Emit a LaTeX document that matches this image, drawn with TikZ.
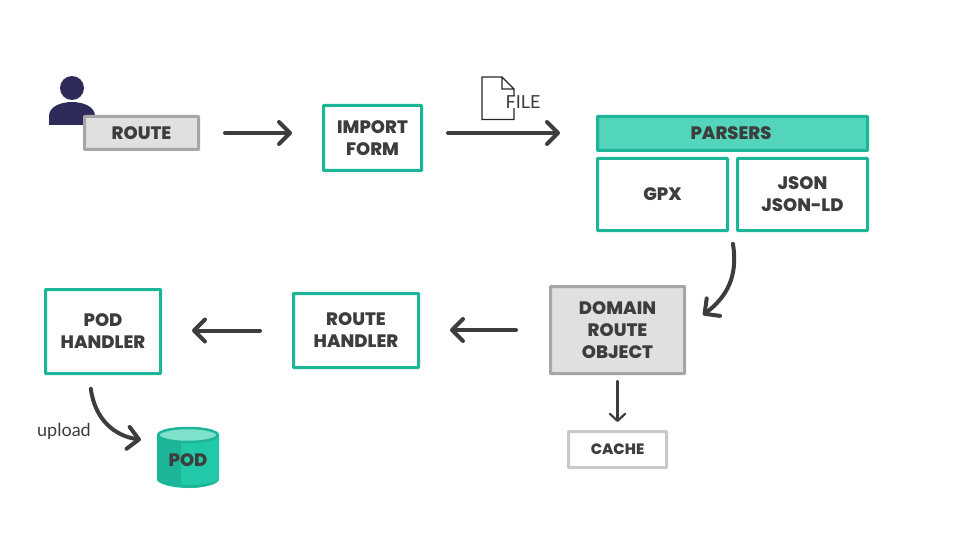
\documentclass[tikz,border=0pt]{standalone}
\usepackage{fontspec}
\setmainfont{Poppins}[BoldFont={Poppins ExtraBold}]
\newfontfamily\thinfont{Lato}
\usetikzlibrary{arrows.meta}
\definecolor{teal1}{HTML}{1DB597}
\definecolor{teal2}{HTML}{52D5BA}
\definecolor{teal3}{HTML}{22C9A9}
\definecolor{teal4}{HTML}{7FE0CC}
\definecolor{ink}{HTML}{3D3D3D}
\definecolor{navy}{HTML}{2E2B5A}
\definecolor{greyline}{HTML}{A6A6A6}
\definecolor{greyfill}{HTML}{E0E0E0}
\definecolor{lightline}{HTML}{C9C9C9}
\tikzset{
  x=1pt,y=-1pt,
  boxbase/.style={rectangle,line width=3pt,rounded corners=0.5pt,align=center,inner sep=0pt,text=ink,
    font=\fontsize{18}{22}\selectfont\bfseries},
  tealbox/.style={boxbase,draw=teal1,fill=white},
  greybox/.style={boxbase,draw=greyline,fill=greyfill},
  cachebox/.style={boxbase,draw=lightline,fill=white,font=\fontsize{15}{18}\selectfont\bfseries},
  arr/.style={draw=ink,line width=4pt,line cap=round,line join=round,
    -{Straight Barb[length=11pt,width=22pt,line width=4pt,round]}},
  thinarr/.style={draw=ink,line width=2.2pt,line cap=round,line join=round,
    -{Straight Barb[length=7pt,width=15pt,line width=2.2pt,round]}},
  lighttext/.style={font=\fontsize{18}{20}\selectfont\thinfont,text=ink,inner sep=0pt},
}
\begin{document}
\begin{tikzpicture}
\useasboundingbox (0,0) rectangle (960,540);
% person
\fill[navy] (72,88) circle (12);
\fill[navy] (49,125) -- (49,116) .. controls (49,106) and (62,102) .. (72,102) .. controls (82,102) and (95,106) .. (95,116) -- (95,125) -- cycle;
% boxes
\node[greybox,minimum width=114pt,minimum height=33pt] (route) at (141.5,133) {ROUTE};
\node[tealbox,minimum width=98pt,minimum height=65pt] (import) at (372.5,138) {IMPORT\\FORM};
\node[tealbox,fill=teal2,minimum width=270pt,minimum height=34pt] (parsers) at (732.5,133.5) {PARSERS\kern3pt};
\node[tealbox,minimum width=130pt,minimum height=72pt] (gpx) at (662.5,194.5) {GPX};
\node[tealbox,minimum width=130pt,minimum height=72pt] (json) at (802.5,194.5) {\raisebox{1pt}{JSON}\\\raisebox{1pt}{JSON-LD}};
\node[greybox,minimum width=134pt,minimum height=87pt] (domain) at (617.5,330) {DOMAIN\\ROUTE\\OBJECT};
\node[tealbox,minimum width=125pt,minimum height=74pt] (rhandler) at (356,330.5) {ROUTE\\HANDLER};
\node[tealbox,minimum width=115pt,minimum height=84pt] (phandler) at (103,331.5) {POD\\HANDLER};
\node[cachebox,minimum width=98pt,minimum height=36pt] (cache) at (617.5,449.5) {CACHE};
% file icon
\draw[black!85,line width=1.1pt,line join=miter] (514,89) -- (502,77) -- (482,77) -- (482,119.5) -- (514,119.5) -- (514,89) -- (502,89) -- (502,77);
\node[lighttext,fill=white,anchor=west,inner xsep=1pt,inner ysep=0pt] (file) at (504.5,102) {FILE};
% cylinder
\path[fill=teal3] (157,435) -- (157,479) .. controls (157,484) and (172,488) .. (188,488) .. controls (204,488) and (219,484) .. (219,479) -- (219,435) -- cycle;
\path[fill=teal1] (157,435) -- (157,479) .. controls (157,483) and (168,486) .. (181,487) -- (181,435) -- cycle;
\path[fill=teal1] (181,487) .. controls (183,487.5) and (186,488) .. (188,488) .. controls (204,488) and (219,484) .. (219,479) .. controls (219,482) and (204,485) .. (188,485) .. controls (186,485) and (183,485) .. (181,485) -- cycle;
\draw[teal1,line width=2.5pt,fill=teal4] (188,435) ellipse [x radius=29.8,y radius=7];
\node[inner sep=0pt,text=ink,font=\fontsize{18}{22}\selectfont\bfseries,minimum width=62pt,minimum height=60pt] (pod) at (188,460) {POD};
% connectors
\draw[arr,shorten <=25pt,shorten >=30pt] (route.east) -- (route.east -| import.west);
\draw[arr,shorten <=25pt,shorten >=36pt] (import.east |- route.east) -- (route.east -| parsers.west);
\draw[arr,shorten <=12pt] ([xshift=2pt]gpx.south east) .. controls (738,275) and (728,296) .. ([xshift=17pt,yshift=15pt]domain.east);
\draw[arr,shorten <=33pt,shorten >=30pt] (domain.west) -- (domain.west -| rhandler.east);
\draw[arr,shorten <=32pt,shorten >=30pt] (rhandler.west) -- (rhandler.west -| phandler.east);
\draw[thinarr,shorten <=6pt,shorten >=8pt] (domain.south) -- (cache.north);
\draw[arr,shorten <=14pt,shorten >=16pt] ([xshift=-14pt]phandler.south) .. controls (95,420) and (115,436) .. ([yshift=18pt]pod.west);
\node[lighttext,anchor=west] (upload) at (37,431) {upload};
\end{tikzpicture}
\end{document}
